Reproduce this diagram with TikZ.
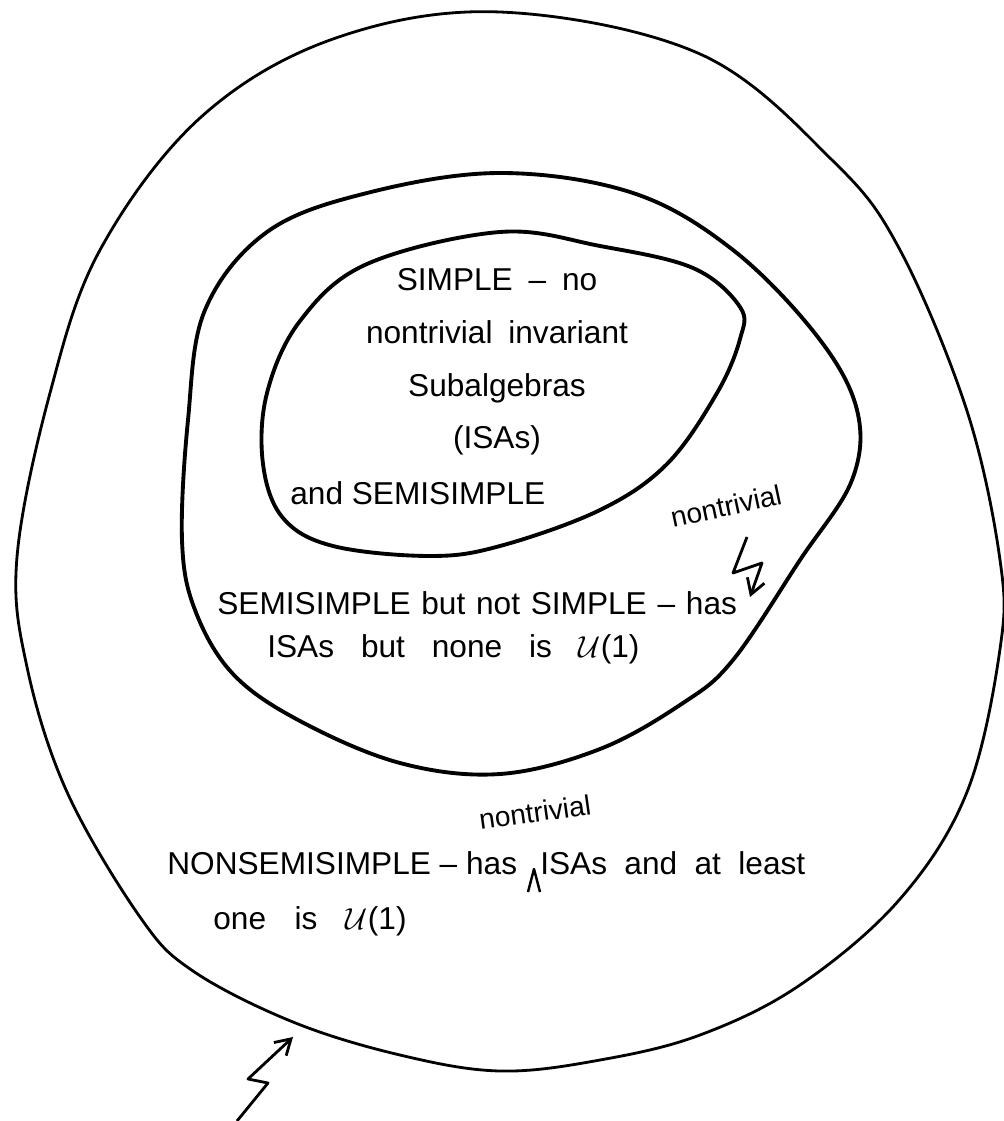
\documentclass[tikz,border=0pt]{standalone}
\usepackage{fontspec}
\setmainfont{Liberation Sans}
\usetikzlibrary{arrows.meta, positioning}
\tikzset{
  outerline/.style={draw=black, line width=1.6pt, line join=round},
  region/.style   ={draw=black, line width=2.2pt, line join=round},
  hand/.style     ={inner sep=0pt, font=\fontsize{18}{30}\selectfont},
  wordgap/.style  ={execute at begin node={\spaceskip=#1\relax}},
  note/.style     ={inner sep=0pt, font=\fontsize{16}{18}\selectfont},
  squiggle/.style ={-{Straight Barb[length=3mm, width=3.6mm]}, line width=1.6pt, line join=round},
  caretline/.style={line width=1.4pt, line join=round},
}

\begin{document}
\begin{tikzpicture}[x=0.02cm, y=-0.02cm, node distance=0.45cm]
    \useasboundingbox (0,0) rectangle (1003,1121);
    \draw[outerline] plot[smooth cycle, tension=0.6] coordinates {
      (500,12) (700,54) (833,161) (900,250) (967,411) (1000,560) (1000,649)
      (967,792) (900,899) (800,985) (700,1035) (600,1060) (500,1071) (400,1055)
      (293,1022) (193,971) (140,917) (67,792) (27,667) (17,557) (50,393)
      (100,250) (200,118) (333,39)};
    \draw[region] plot[smooth cycle, tension=0.6] coordinates {
      (500,173) (633,193) (733,250) (817,336) (857,410) (852,480) (800,560)
      (733,660) (683,703) (600,749) (500,774) (400,763) (300,721) (233,674)
      (195,610) (182,540) (188,420) (205,310) (267,232) (367,193)};
    \draw[region] plot[smooth cycle, tension=0.6] coordinates {
      (500,232) (600,246) (693,268) (740,307) (740,339) (717,393) (667,464)
      (600,510) (500,546) (430,556) (333,546) (283,518) (263,464) (267,393)
      (300,321) (367,264)};
    \node[hand, align=center, wordgap=0.5em] (simple) at (497,362) {SIMPLE \textendash\ no\\nontrivial invariant\\Subalgebras\\(ISAs)};
    \node[hand, anchor=west] (andsemi) at (290,493) {and SEMISIMPLE};
    \node[hand, anchor=west, wordgap=0.34em] (semi) at (217,603) {SEMISIMPLE but not SIMPLE \textendash\ has};
    \node[hand, anchor=west, wordgap=0.85em] (semib) at (267,649) {ISAs but none is \(\mathcal{U}\)(1)};
    \node[note, rotate=12] (ntmid) at (726,506) {nontrivial};
    \node[hand, anchor=west] (nonsemi) at (167,863) {NONSEMISIMPLE \textendash\ has};
    \node[hand, right=0.45cm of nonsemi, wordgap=0.55em] (isas) {ISAs and at least};
    \node[hand, anchor=west, wordgap=0.9em] (oneis) at (213,921) {one is \(\mathcal{U}\)(1)};
    \node[note, rotate=8] (ntlow) at (535,812) {nontrivial};
    \coordinate (midtail) at (747,537);
    \coordinate (hasmark) at (750,597);
    \coordinate (tailend) at (237,1121);
    \coordinate (outermark) at (293,1037);
    \draw[squiggle] (midtail) -- (733,573) -- (762,563) -- (hasmark);
    \draw[squiggle] (tailend) -- (268,1083) -- (248,1079) -- (outermark);
    \draw[caretline] (528,892) -- (534,869) -- (540,892);
\end{tikzpicture}
\end{document}
